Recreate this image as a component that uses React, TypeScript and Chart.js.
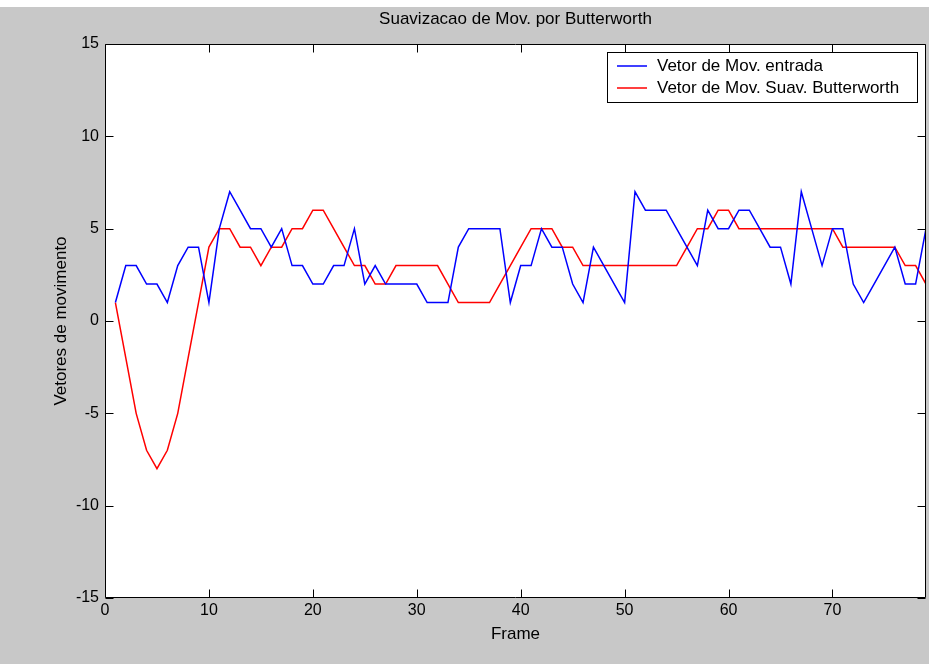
import React, { useEffect, useRef } from "react";
import { Chart, registerables } from "chart.js";

Chart.register(...registerables);

const TITLE = "Suavizacao de Mov. por Butterworth";
const X_LABEL = "Frame";
const Y_LABEL = "Vetores de movimento";
const SERIES_NAMES = ["Vetor de Mov. entrada", "Vetor de Mov. Suav. Butterworth"];

const frames = [
  1, 2, 3, 4, 5, 6, 7, 8, 9, 10, 11, 12, 13, 14, 15, 16, 17, 18, 19, 20,
  21, 22, 23, 24, 25, 26, 27, 28, 29, 30, 31, 32, 33, 34, 35, 36, 37, 38, 39, 40,
  41, 42, 43, 44, 45, 46, 47, 48, 49, 50, 51, 52, 53, 54, 55, 56, 57, 58, 59, 60,
  61, 62, 63, 64, 65, 66, 67, 68, 69, 70, 71, 72, 73, 74, 75, 76, 77, 78, 79,
];

const entrada = [
  1, 3, 3, 2, 2, 1, 3, 4, 4, 1, 5, 7, 6, 5, 5, 4, 5, 3, 3, 2,
  2, 3, 3, 5, 2, 3, 2, 2, 2, 2, 1, 1, 1, 4, 5, 5, 5, 5, 1, 3,
  3, 5, 4, 4, 2, 1, 4, 3, 2, 1, 7, 6, 6, 6, 5, 4, 3, 6, 5, 5,
  6, 6, 5, 4, 4, 2, 7, 5, 3, 5, 5, 2, 1, 2, 3, 4, 2, 2, 5,
];

const suavizado = [
  1, -2, -5, -7, -8, -7, -5, -2, 1, 4, 5, 5, 4, 4, 3, 4, 4, 5, 5, 6,
  6, 5, 4, 3, 3, 2, 2, 3, 3, 3, 3, 3, 2, 1, 1, 1, 1, 2, 3, 4,
  5, 5, 5, 4, 4, 3, 3, 3, 3, 3, 3, 3, 3, 3, 3, 4, 5, 5, 6, 6,
  5, 5, 5, 5, 5, 5, 5, 5, 5, 5, 4, 4, 4, 4, 4, 4, 3, 3, 2,
];

const xTicks = [0, 10, 20, 30, 40, 50, 60, 70];
const yTicks = [-15, -10, -5, 0, 5, 10, 15];

const FONT = '"Liberation Sans", Arial, Helvetica, sans-serif';
const BG = "#c8c8c8";

const framePlugin = {
  id: "matlabFrame",
  beforeDraw(chart: any) {
    const { ctx, chartArea, width, height } = chart;
    ctx.save();
    ctx.fillStyle = BG;
    ctx.fillRect(0, 0, width, height);
    ctx.fillStyle = "#ffffff";
    ctx.fillRect(0, 0, width, 7);
    ctx.fillRect(chartArea.left, chartArea.top, chartArea.right - chartArea.left, chartArea.bottom - chartArea.top);
    ctx.restore();
  },
  afterDraw(chart: any) {
    const { ctx, chartArea } = chart;
    const xs = chart.scales.x;
    const ys = chart.scales.y;
    const L = Math.round(chartArea.left) + 0.5;
    const R = Math.round(chartArea.right) - 0.5;
    const T = Math.round(chartArea.top) + 0.5;
    const B = Math.round(chartArea.bottom) - 0.5;
    const TL = 8;
    ctx.save();
    ctx.strokeStyle = "#000000";
    ctx.lineWidth = 1;
    ctx.beginPath();
    ctx.rect(L, T, R - L, B - T);
    ctx.stroke();
    ctx.beginPath();
    xTicks.forEach((v) => {
      const px = Math.round(xs.getPixelForValue(v)) + 0.5;
      ctx.moveTo(px, B);
      ctx.lineTo(px, B - TL);
      ctx.moveTo(px, T);
      ctx.lineTo(px, T + TL);
    });
    yTicks.forEach((v) => {
      const py = Math.round(ys.getPixelForValue(v)) + 0.5;
      ctx.moveTo(L, py);
      ctx.lineTo(L + TL, py);
      ctx.moveTo(R, py);
      ctx.lineTo(R - TL, py);
    });
    ctx.stroke();

    // titles
    const cx = (chartArea.left + chartArea.right) / 2;
    ctx.fillStyle = "#000000";
    ctx.font = `17px ${FONT}`;
    ctx.textAlign = "center";
    ctx.textBaseline = "middle";
    ctx.fillText(TITLE, cx, 19);
    ctx.fillText(X_LABEL, cx, 634);
    ctx.save();
    ctx.translate(61, (chartArea.top + chartArea.bottom) / 2);
    ctx.rotate(-Math.PI / 2);
    ctx.fillText(Y_LABEL, 0, 0);
    ctx.restore();

    // legend
    const lx = 607.5, ly = 52.5, lw = 310, lh = 50;
    ctx.fillStyle = "#ffffff";
    ctx.fillRect(lx, ly, lw, lh);
    ctx.strokeStyle = "#000000";
    ctx.lineWidth = 1;
    ctx.strokeRect(lx, ly, lw, lh);
    const colors = ["#0000ff", "#ff0000"];
    const rows = [66, 88];
    rows.forEach((ry, i) => {
      ctx.strokeStyle = colors[i];
      ctx.lineWidth = 1.5;
      ctx.beginPath();
      ctx.moveTo(617, ry);
      ctx.lineTo(647, ry);
      ctx.stroke();
      ctx.fillStyle = "#000000";
      ctx.textAlign = "left";
      ctx.textBaseline = "middle";
      ctx.fillText(SERIES_NAMES[i], 657, ry);
    });
    ctx.restore();
  },
};

export default function App() {
  const ref = useRef<HTMLCanvasElement | null>(null);

  useEffect(() => {
    document.body.style.margin = "0";
    const canvas = ref.current;
    if (!canvas) return;
    const chart = new Chart(canvas, {
      type: "line",
      data: {
        labels: frames,
        datasets: [
          {
            label: SERIES_NAMES[0],
            data: frames.map((f, i) => ({ x: f, y: entrada[i] })),
            borderColor: "#0000ff",
            backgroundColor: "#0000ff",
            borderWidth: 1.5,
            pointRadius: 0,
            tension: 0,
            fill: false,
          },
          {
            label: SERIES_NAMES[1],
            data: frames.map((f, i) => ({ x: f, y: suavizado[i] })),
            borderColor: "#ff0000",
            backgroundColor: "#ff0000",
            borderWidth: 1.5,
            pointRadius: 0,
            tension: 0,
            fill: false,
          },
        ],
      },
      options: {
        responsive: false,
        animation: false,
        devicePixelRatio: 1,
        layout: { padding: { top: 44, right: 3, left: 0, bottom: 0 } },
        plugins: {
          legend: { display: false },
          title: { display: false },
          tooltip: { enabled: false },
        },
        scales: {
          x: {
            type: "linear",
            min: 0,
            max: 79,
            grid: { display: false, drawTicks: false },
            border: { display: false },
            afterBuildTicks: (scale: any) => {
              scale.ticks = xTicks.map((v) => ({ value: v }));
            },
            afterFit: (scale: any) => {
              scale.height = 66;
            },
            ticks: {
              color: "#000000",
              font: { family: FONT, size: 16 },
              padding: 3,
              maxRotation: 0,
              autoSkip: false,
            },
          },
          y: {
            type: "linear",
            min: -15,
            max: 15,
            grid: { display: false, drawTicks: false },
            border: { display: false },
            afterBuildTicks: (scale: any) => {
              scale.ticks = yTicks.map((v) => ({ value: v }));
            },
            afterFit: (scale: any) => {
              scale.width = 105;
            },
            ticks: {
              color: "#000000",
              font: { family: FONT, size: 16 },
              padding: 6,
              autoSkip: false,
            },
          },
        },
      },
      plugins: [framePlugin],
    } as any);
    return () => chart.destroy();
  }, []);

  return (
    <div style={{ position: "absolute", left: 0, top: 0, width: 929, height: 664 }}>
      <canvas ref={ref} width={929} height={664} style={{ width: 929, height: 664, display: "block" }} />
    </div>
  );
}
